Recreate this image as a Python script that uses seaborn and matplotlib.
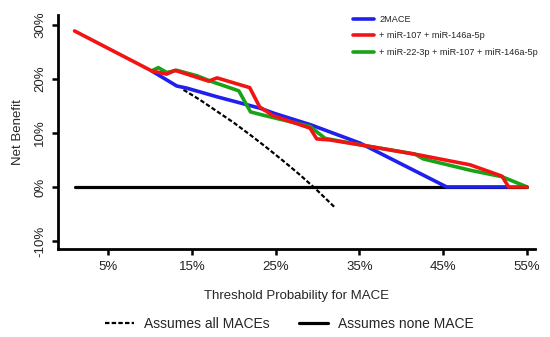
import pandas as pd
import seaborn as sns
import matplotlib
matplotlib.use('Agg')
import matplotlib.pyplot as plt
from matplotlib.lines import Line2D

# values (threshold %, net benefit %)
red_x = [1.0, 10.2, 12.0, 13.0, 17.0, 18.0, 21.9, 23.1, 24.7, 29.1, 29.9, 31.5, 35.1, 42.2, 48.2, 52.0, 52.8, 55.0]
red_y = [28.9, 21.5, 20.9, 21.6, 19.6, 20.2, 18.4, 14.8, 13.2, 10.9, 8.9, 8.7, 7.8, 5.9, 4.1, 2.0, 0.0, 0.0]

green_x = [10.2, 11.0, 12.0, 13.2, 15.6, 17.4, 20.6, 22.0, 23.5, 29.1, 30.9, 35.1, 41.6, 42.6, 48.2, 52.0, 55.0]
green_y = [21.5, 22.1, 21.2, 21.6, 20.6, 19.5, 17.8, 13.9, 13.3, 11.2, 9.0, 7.8, 6.1, 5.2, 3.1, 1.9, 0.0]

blue_x = [10.2, 13.2, 14.4, 18.0, 23.1, 24.9, 29.2, 35.1, 45.4, 52.8]
blue_y = [21.5, 18.7, 18.3, 16.7, 14.6, 13.6, 11.5, 8.1, 0.0, 0.0]

all_x = [14, 16, 18, 20, 22, 24, 26, 28, 30, 32]
all_y = [18.0, 16.1, 14.0, 11.9, 9.6, 7.2, 4.7, 2.1, -0.7, -3.7]

none_x = [1, 55]
none_y = [0, 0]

model_labels = ["2MACE", "+ miR-107 + miR-146a-5p", "+ miR-22-3p + miR-107 + miR-146a-5p"]
model_colors = ["#1f1fee", "#f21414", "#17a317"]

xticks = [5, 15, 25, 35, 45, 55]
yticks = [-10, 0, 10, 20, 30]

sns.set_style("ticks")
plt.rcParams['font.family'] = ['Liberation Sans', 'DejaVu Sans']

fig = plt.figure(figsize=(5.5, 3.37), dpi=100)
ax = fig.add_axes([0.1055, 0.261, 0.8675, 0.6945])

dash = (0, (2, 1))
sns.lineplot(x=none_x, y=none_y, ax=ax, color="black", linewidth=2.3, estimator=None, sort=False)
sns.lineplot(x=all_x, y=all_y, ax=ax, color="black", linewidth=1.6, linestyle=dash,
             estimator=None, sort=False)
sns.lineplot(x=blue_x, y=blue_y, ax=ax, color=model_colors[0], linewidth=2.6, estimator=None, sort=False)
sns.lineplot(x=green_x, y=green_y, ax=ax, color=model_colors[2], linewidth=2.6, estimator=None, sort=False)
sns.lineplot(x=red_x, y=red_y, ax=ax, color=model_colors[1], linewidth=2.6, estimator=None, sort=False)

ax.set_xlim(-0.97, 55.96)
ax.set_ylim(-11.5, 31.85)
ax.set_xticks(xticks)
ax.set_xticklabels([f"{t}%" for t in xticks], fontsize=9.5, color="#222222")
ax.set_yticks(yticks)
ax.set_yticklabels([f"{t}%" for t in yticks], fontsize=9.5, color="#222222",
                   rotation=90, va="center")
ax.tick_params(axis="both", length=4.5, width=1.8, color="black", pad=4)

for s in ["top", "right"]:
    ax.spines[s].set_visible(False)
for s in ["left", "bottom"]:
    ax.spines[s].set_linewidth(2.0)
    ax.spines[s].set_color("black")

ax.set_xlabel("Threshold Probability for MACE", fontsize=9.5, labelpad=12)
ax.set_ylabel("Net Benefit", fontsize=9.5, labelpad=7)

handles = [Line2D([0], [0], color=c, linewidth=2.6) for c in model_colors]
ax.legend(handles, model_labels, loc="upper right", bbox_to_anchor=(1.023, 1.035), frameon=False,
          fontsize=6.6, handlelength=2.3, handletextpad=0.6, labelspacing=0.8)

bottom_handles = [Line2D([0], [0], color="black", linewidth=1.6, linestyle=dash),
                  Line2D([0], [0], color="black", linewidth=2.3)]
fig.legend(bottom_handles, ["Assumes all MACEs", "Assumes none MACE"], loc="center",
           bbox_to_anchor=(0.526, 0.04), ncol=2, frameon=False, fontsize=10,
           handlelength=2.1, columnspacing=2.1, handletextpad=0.7)

fig.savefig("out.png", dpi=100)
